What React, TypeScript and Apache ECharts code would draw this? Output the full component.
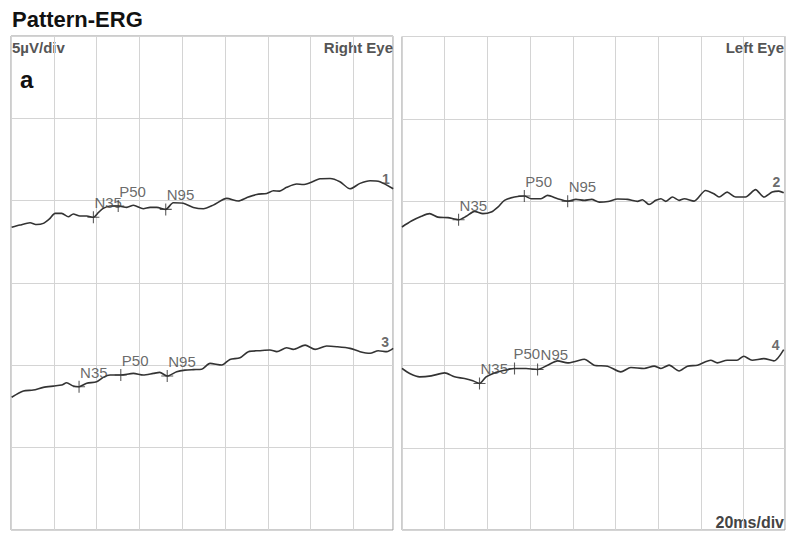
import React, { useEffect, useRef } from "react";
import * as echarts from "echarts";

const FONT = '"Liberation Sans", Arial, Helvetica, sans-serif';

// time in ms (20 ms/div), amplitude in µV (5 µV/div)
const trace1: number[][] = [
  [0.3, 18.38], [4.2, 18.52], [8.9, 18.66], [12.0, 18.55], [15.1, 18.62], [18.0, 18.9], [20.6, 19.23], [23.7, 19.23],
  [26.8, 19.02], [29.1, 19.19], [32.2, 19.07], [35.4, 19.07], [38.5, 18.99], [41.0, 19.3], [43.1, 19.53],
  [46.3, 19.68], [50.1, 19.68], [54.1, 19.59], [57.2, 19.72], [61.8, 19.51], [65.0, 19.59], [68.1, 19.59],
  [72.3, 19.47], [75.8, 19.87], [80.5, 19.84], [85.2, 19.59], [89.9, 19.51], [94.5, 19.73], [100.8, 20.14],
  [106.2, 19.98], [110.1, 20.18], [114.8, 20.38], [119.5, 20.44], [122.6, 20.6], [125.5, 20.58], [128.8, 20.81],
  [133.5, 21.01], [136.5, 20.98], [139.7, 21.09], [144.4, 21.33], [149.1, 21.35], [153.7, 21.15], [158.4, 20.72],
  [163.1, 21.05], [167.8, 21.21], [172.4, 21.15], [178.6, 20.72],
];
const trace2: number[][] = [
  [0, 18.42], [4.4, 18.78], [9.1, 19.07], [12.9, 19.23], [16.8, 19.02], [21.5, 18.99], [26.5, 18.86],
  [30.1, 19.07], [34.0, 19.37], [37.9, 19.23], [41.8, 19.33], [44.9, 19.63], [48.0, 20.04], [52.7, 20.24],
  [57.3, 20.3], [60.5, 20.14], [65.1, 20.14], [68.2, 20.34], [72.9, 20.14], [77.6, 19.99], [81.5, 20.1],
  [85.4, 20.04], [88.8, 20.1], [92.4, 19.93], [96.5, 19.97], [101.0, 20.12], [105.6, 20.1], [110.3, 19.98],
  [112.6, 20.08], [115.7, 19.79], [118.9, 20.04], [121.3, 20.14], [123.6, 19.98], [126.7, 20.24], [129.8, 20.04],
  [132.2, 20.14], [136.8, 19.99], [142.2, 20.64], [146.1, 20.44], [148.5, 20.24], [152.3, 20.54], [156.3, 20.24],
  [160.9, 20.24], [165.6, 20.69], [169.5, 20.24], [173.4, 20.54], [176.5, 20.6], [178.8, 20.5],
];
const trace3: number[][] = [
  [0.3, 8.06], [5.8, 8.44], [10.4, 8.5], [15.1, 8.66], [19.8, 8.74], [23.7, 8.8], [26.0, 8.94], [29.1, 8.74],
  [31.8, 8.7], [35.4, 8.91], [40.0, 9.0], [43.1, 9.27], [46.3, 9.41], [51.3, 9.41], [57.2, 9.51], [61.8, 9.41],
  [66.5, 9.51], [69.5, 9.57], [73.0, 9.35], [77.4, 9.61], [81.3, 9.71], [85.2, 9.74], [89.1, 9.76], [93.0, 10.12],
  [98.5, 10.02], [102.3, 10.36], [107.0, 10.46], [110.9, 10.83], [116.4, 10.89], [121.0, 10.93], [124.2, 10.83],
  [128.8, 11.07], [131.9, 10.97], [137.4, 11.23], [142.1, 10.97], [147.5, 11.17], [152.2, 11.13], [158.4, 11.03],
  [163.1, 10.83], [167.8, 10.73], [171.6, 10.89], [175.6, 10.83], [178.6, 11.03],
];
const trace4: number[][] = [
  [0, 9.82], [3.6, 9.51], [8.3, 9.31], [13.7, 9.37], [20.0, 9.55], [24.6, 9.31], [29.3, 9.21], [33.2, 9.07],
  [36.3, 8.91], [39.4, 9.31], [43.3, 9.55], [48.0, 9.71], [52.7, 9.82], [58.1, 9.82], [63.5, 9.76], [68.2, 10.02],
  [72.9, 10.28], [77.6, 10.16], [81.5, 10.26], [85.4, 10.38], [90.0, 10.02], [96.3, 9.96], [102.5, 9.61],
  [107.2, 9.88], [113.4, 9.82], [118.1, 9.96], [121.3, 9.82], [125.1, 10.02], [129.8, 9.67], [133.7, 9.96],
  [138.4, 10.02], [144.6, 10.32], [147.7, 10.16], [152.3, 10.32], [156.9, 10.32], [160.1, 10.56], [164.0, 10.32],
  [169.5, 10.42], [174.2, 10.28], [178.8, 10.97],
];

const peakNames = ["N35", "P50", "N95"];
const peaks1: number[][] = [[38.5, 18.99], [50.1, 19.68], [72.3, 19.47]];
const peaks2: number[][] = [[26.5, 18.86], [57.3, 20.3], [77.6, 19.99]];
const peaks3: number[][] = [[31.8, 8.7], [51.3, 9.41], [73.0, 9.35]];
const peaks4: number[][] = [[36.3, 8.91], [52.7, 9.82], [63.5, 9.76]];

const traceTags = ["1", "2", "3", "4"];
const tagPositions: number[][] = [[175.2, 21.34], [175.4, 21.15], [174.8, 11.43], [175.0, 11.23]];

const X_MAX_LEFT = 178.5;
const X_MAX_RIGHT = 179.4;
const Y_MAX = 30;

export default function App() {
  const ref = useRef<HTMLDivElement>(null);
  useEffect(() => {
    if (!ref.current) return;
    const chart = echarts.init(ref.current, undefined, { renderer: "svg" });
    const grids = [
      { left: 11, top: 36, width: 382, height: 494 },
      { left: 402, top: 36.5, width: 383, height: 493.5 },
    ];
    const xMaxes = [X_MAX_LEFT, X_MAX_RIGHT];
    const traces = [trace1, trace2, trace3, trace4];
    const peaks = [peaks1, peaks2, peaks3, peaks4];
    const panelOf = [0, 1, 0, 1];
    const cross = "path://M0,5.45h12v1.1h-12z M5.45,0h1.1v12h-1.1z";

    const series: any[] = [];
    traces.forEach((t, i) => {
      const p = panelOf[i];
      series.push({
        type: "line",
        xAxisIndex: p,
        yAxisIndex: p,
        data: t,
        showSymbol: false,
        smooth: 0.25,
        lineStyle: { color: "#333", width: 1.6 },
        silent: true,
      });
      series.push({
        type: "scatter",
        xAxisIndex: p,
        yAxisIndex: p,
        symbol: cross,
        symbolSize: 12,
        itemStyle: { color: "#333" },
        data: peaks[i].map((v, k) => {
          const d: any = { name: peakNames[k], value: v };
          // last trace: P50 and N95 labels sit edge to edge
          if (i === 3 && k === 1) d.label = { position: [5, -1] };
          if (i === 3 && k === 2) d.label = { position: [9, -1] };
          return d;
        }),
        label: {
          show: true,
          formatter: "{b}",
          position: [7, -1],
          align: "left",
          verticalAlign: "bottom",
          fontFamily: FONT,
          fontSize: 15,
          color: "#444",
        },
        z: 3,
      });
      series.push({
        type: "scatter",
        xAxisIndex: p,
        yAxisIndex: p,
        symbolSize: 0,
        data: [{ name: traceTags[i], value: tagPositions[i] }],
        label: {
          show: true,
          formatter: "{b}",
          position: "inside",
          fontFamily: FONT,
          fontSize: 14,
          fontWeight: "bold",
          color: "#444",
        },
      });
    });

    const textStyle = (s: any) => ({ fontFamily: FONT, ...s });

    chart.setOption({
      animation: false,
      backgroundColor: "#ffffff",
      grid: grids.map((g) => ({ ...g, show: true, borderColor: "#9a9a9a", borderWidth: 1, backgroundColor: "transparent" })),
      xAxis: grids.map((_, i) => ({
        type: "value",
        gridIndex: i,
        min: 0,
        max: xMaxes[i],
        interval: 20,
        axisLine: { show: false },
        axisTick: { show: false },
        axisLabel: { show: false },
        splitLine: { show: true, lineStyle: { color: "#d4d4d4", width: 1 } },
      })),
      yAxis: grids.map((_, i) => ({
        type: "value",
        gridIndex: i,
        min: 0,
        max: Y_MAX,
        interval: 5,
        axisLine: { show: false },
        axisTick: { show: false },
        axisLabel: { show: false },
        splitLine: { show: true, lineStyle: { color: "#d4d4d4", width: 1 } },
      })),
      series,
      graphic: [
        { type: "text", left: 12, top: 8, style: textStyle({ text: "Pattern-ERG", fontSize: 22, fontWeight: "bold", fill: "#111" }) },
        { type: "text", left: 12, top: 40, style: textStyle({ text: "5µV/div", fontSize: 15, fontWeight: "bold", fill: "#555" }) },
        { type: "text", right: 396, top: 40, style: textStyle({ text: "Right Eye", fontSize: 15, fontWeight: "bold", fill: "#555" }) },
        { type: "text", left: 20, top: 67, style: textStyle({ text: "a", fontSize: 24, fontWeight: "bold", fill: "#111" }) },
        { type: "text", right: 5, top: 40, style: textStyle({ text: "Left Eye", fontSize: 15, fontWeight: "bold", fill: "#555" }) },
        { type: "text", right: 5, top: 514, style: textStyle({ text: "20ms/div", fontSize: 16, fontWeight: "bold", fill: "#444" }) },
      ],
    });
    return () => chart.dispose();
  }, []);
  return (
    <div
      ref={ref}
      style={{ position: "fixed", left: 0, top: 0, width: 789, height: 534, background: "#fff" }}
    />
  );
}
